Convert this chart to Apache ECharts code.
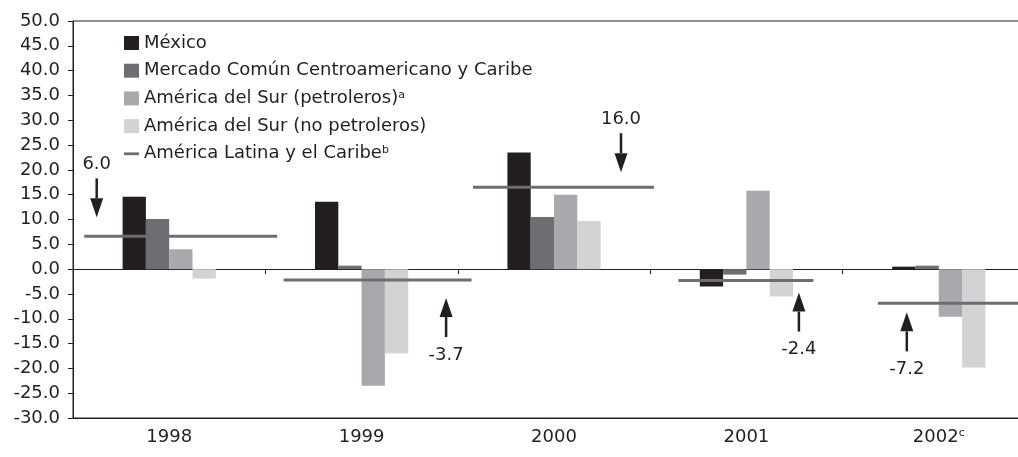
<!DOCTYPE html>
<html>
<head>
<meta charset="utf-8">
<script src="https://cdn.jsdelivr.net/npm/echarts@6/dist/echarts.min.js"></script>
<style>
  html, body { margin: 0; padding: 0; background: #fff; }
  #main { width: 1018px; height: 457px; }
</style>
</head>
<body>
<div id="main"></div>
<script>
// categories
const years = ['1998', '1999', '2000', '2001', '2002'];
const yearNotes = ['', '', '', '', 'c'];

// series
const seriesNames = [
  'México',
  'Mercado Común Centroamericano y Caribe',
  'América del Sur (petroleros)',
  'América del Sur (no petroleros)',
  'América Latina y el Caribe'
];
const seriesNotes = ['', '', 'a', '', 'b'];
const mexico = [14.6, 13.6, 23.5, -3.5, 0.5];
const mcca = [10.1, 0.7, 10.5, -1.1, 0.7];
const surPetroleros = [4.0, -23.5, 15.0, 15.8, -9.6];
const surNoPetroleros = [-1.9, -17.0, 9.7, -5.5, -19.8];
const latam = [6.6, -2.2, 16.5, -2.3, -6.9];
const latamLabels = ['6.0', '-3.7', '16.0', '-2.4', '-7.2'];

// y axis ticks
const yMin = -30, yMax = 50, yStep = 5;

// layout of the regional average segments and the arrows (pixels, from category centre)
const segOffsets = [[-85, 108], [-78, 110], [-81, 100], [-68, 67], [-61, 140]];
const arrowLayout = [
  { dx: -72.5, gap: 19, dir: -1 },
  { dx: 84.5, gap: 18, dir: 1 },
  { dx: 67, gap: 15, dir: -1 },
  { dx: 52.5, gap: 12, dir: 1 },
  { dx: -32, gap: 9, dir: 1 }
];

const ink = '#231f20';
const colors = ['#231f20', '#6d6e71', '#a7a9ac', '#d1d3d4', '#6d6e71'];
const font = '"DejaVu Sans", sans-serif';

const chart = echarts.init(document.getElementById('main'));

function barSeries(name, data, color) {
  return {
    name: name,
    type: 'bar',
    xAxisIndex: 0,
    data: data,
    barWidth: 23.3,
    barGap: '0%',
    itemStyle: { color: color },
    emphasis: { disabled: true }
  };
}

function renderLatam(params, api) {
  const i = api.value(0);
  const p = api.coord([i, api.value(1)]);
  const seg = segOffsets[i];
  const a = arrowLayout[i];
  const ax = p[0] + a.dx;
  const tipY = p[1] + a.dir * a.gap;
  const headH = 19, headW = 13;
  const baseY = tipY + a.dir * headH;
  const tailY = tipY + a.dir * 39;
  const labelY = tailY + (a.dir < 0 ? -14 : 18);
  return {
    type: 'group',
    children: [
      {
        type: 'line',
        shape: { x1: p[0] + seg[0], y1: p[1], x2: p[0] + seg[1], y2: p[1] },
        style: { stroke: colors[4], lineWidth: 3 }
      },
      {
        type: 'line',
        shape: { x1: ax, y1: baseY, x2: ax, y2: tailY },
        style: { stroke: ink, lineWidth: 2.5 }
      },
      {
        type: 'polygon',
        shape: { points: [[ax, tipY], [ax - headW / 2, baseY], [ax + headW / 2, baseY]] },
        style: { fill: ink }
      },
      {
        type: 'text',
        style: {
          text: latamLabels[i], x: ax, y: labelY, fill: ink,
          fontSize: 18, fontFamily: font, align: 'center', verticalAlign: 'middle'
        }
      }
    ]
  };
}

const option = {
  animation: false,
  backgroundColor: '#fff',
  textStyle: { fontFamily: font },
  grid: {
    left: 73, top: 21, width: 962, height: 397,
    outerBoundsMode: 'none',
    containLabel: false,
    show: true, borderColor: ink, borderWidth: 1, backgroundColor: 'transparent'
  },
  legend: {
    orient: 'vertical',
    left: 119,
    top: 29,
    itemWidth: 15,
    itemHeight: 14,
    itemGap: 9.7,
    selectedMode: false,
    data: seriesNames.map((n, i) => ({ name: n, icon: i === 4 ? 'path://M0,0H16V3H0Z' : 'rect' })),
    formatter: name => {
      const note = seriesNotes[seriesNames.indexOf(name)];
      return note ? name + '{sup|' + note + '}' : name;
    },
    textStyle: {
      fontFamily: font, fontSize: 18, color: ink, lineHeight: 18,
      rich: { sup: { fontFamily: font, fontSize: 11, color: ink, verticalAlign: 'top', lineHeight: 18 } }
    }
  },
  xAxis: [
    {
      type: 'category',
      data: years,
      position: 'bottom',
      axisLine: { onZero: true, lineStyle: { color: ink, width: 1 } },
      axisTick: { show: true, length: 5, lineStyle: { color: ink } },
      axisLabel: { show: false },
      splitLine: { show: false }
    },
    {
      type: 'category',
      data: years,
      position: 'bottom',
      axisLine: { onZero: false, lineStyle: { color: ink, width: 1 } },
      axisTick: { show: false },
      axisLabel: {
        show: true, margin: 10, color: ink, fontFamily: font, fontSize: 18,
        formatter: (v, idx) => yearNotes[idx] ? v + '{sup|' + yearNotes[idx] + '}' : v,
        rich: { sup: { fontFamily: font, fontSize: 11, color: ink, verticalAlign: 'top', lineHeight: 18 } }
      },
      splitLine: { show: false }
    }
  ],
  yAxis: {
    type: 'value',
    min: yMin,
    max: yMax,
    interval: yStep,
    axisLine: { show: true, lineStyle: { color: ink, width: 1 } },
    axisTick: { show: true, length: 5, lineStyle: { color: ink } },
    axisLabel: {
      margin: 13, color: ink, fontFamily: font, fontSize: 18,
      formatter: v => v.toFixed(1)
    },
    splitLine: { show: false }
  },
  series: [
    barSeries(seriesNames[0], mexico, colors[0]),
    barSeries(seriesNames[1], mcca, colors[1]),
    barSeries(seriesNames[2], surPetroleros, colors[2]),
    barSeries(seriesNames[3], surNoPetroleros, colors[3]),
    {
      name: seriesNames[4],
      type: 'custom',
      xAxisIndex: 0,
      clip: false,
      itemStyle: { color: colors[4] },
      renderItem: renderLatam,
      encode: { x: 0, y: 1 },
      data: latam.map((v, i) => [i, v]),
      z: 5
    }
  ]
};

chart.setOption(option);
</script>
</body>
</html>
